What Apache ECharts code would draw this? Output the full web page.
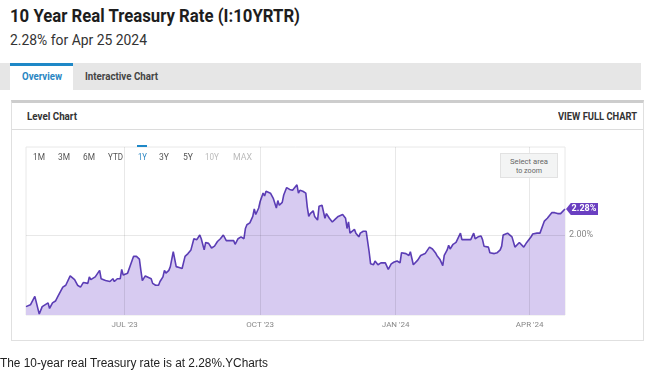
<!DOCTYPE html>
<html><head><meta charset="utf-8">
<script src="https://cdn.jsdelivr.net/npm/echarts@6/dist/echarts.min.js"></script>
<style>
html,body{margin:0;padding:0;width:651px;height:371px;overflow:hidden;background:#fff;font-family:Roboto,"Noto Sans",sans-serif;}
.abs{position:absolute;white-space:nowrap;}
[data-w]{transform-origin:0 50%;}
#title{left:10px;top:5px;font-size:18px;font-weight:700;color:#1d1d1d;line-height:22px;}
#sub{left:10px;top:31px;font-size:14px;color:#333;line-height:18px;}
#tabbar{left:0;top:63px;width:641px;height:27px;background:#e6e6e6;}
#tabActive{left:10px;top:63px;width:63px;height:27px;background:#fff;border-top:3px solid #1e88c7;box-sizing:border-box;}
#tab1{left:22px;top:70px;font-size:11px;font-weight:700;color:#2a86c3;line-height:14px;}
#tab2{left:85px;top:70px;font-size:11px;font-weight:700;color:#444;line-height:14px;}
#card{left:11px;top:100px;width:633px;height:241px;border:1px solid #e0e0e0;border-top:3px solid #cdcdcd;box-sizing:border-box;}
#sep{left:12px;top:129px;width:631px;height:1px;background:#dcdcdc;}
#lvl{left:27px;top:110px;font-size:11px;font-weight:700;color:#333;line-height:14px;}
#vfc{left:558px;top:110px;font-size:11px;font-weight:700;color:#333;line-height:14px;}
#chart{left:0;top:0;width:651px;height:371px;}
.rb{top:152px;font-size:9px;color:#555;line-height:11px;}
.rb.on{color:#2a86c3;}
.rb.off{color:#bbb;}
#rbBar{left:137px;top:145px;width:10px;height:2px;background:#1e88c7;}
#zoomBox{left:500px;top:153px;width:58px;height:25px;background:#f3f4f4;border:1px solid #e2e2e2;box-sizing:border-box;}
.zt{font-size:8px;color:#666;line-height:9px;}
#foot{left:0;top:356px;font-family:"Liberation Sans",Arial,sans-serif;font-size:12px;color:#222;line-height:15px;}
</style></head>
<body>
<div class="abs" id="title" data-w="290">10 Year Real Treasury Rate (I:10YRTR)</div>
<div class="abs" id="sub" data-w="137">2.28% for Apr 25 2024</div>
<div class="abs" id="tabbar"></div>
<div class="abs" id="tabActive"></div>
<div class="abs" id="tab1" data-w="40">Overview</div>
<div class="abs" id="tab2" data-w="73">Interactive Chart</div>
<div class="abs" id="card"></div>
<div class="abs" id="sep"></div>
<div class="abs" id="lvl" data-w="50">Level Chart</div>
<div class="abs" id="vfc" data-w="79">VIEW FULL CHART</div>
<div class="abs" id="chart"></div>
<div class="abs" id="rbBar"></div>
<div class="abs rb" style="left:33px" data-w="12">1M</div>
<div class="abs rb" style="left:58px" data-w="12">3M</div>
<div class="abs rb" style="left:83px" data-w="12">6M</div>
<div class="abs rb" style="left:108px" data-w="15">YTD</div>
<div class="abs rb on" style="left:138px" data-w="9">1Y</div>
<div class="abs rb" style="left:159px" data-w="10">3Y</div>
<div class="abs rb" style="left:183px" data-w="10">5Y</div>
<div class="abs rb off" style="left:205px" data-w="14">10Y</div>
<div class="abs rb off" style="left:233px" data-w="19">MAX</div>
<div class="abs" id="zoomBox"></div>
<div class="abs zt" style="left:510px;top:157px" data-w="38">Select area</div>
<div class="abs zt" style="left:516px;top:166px" data-w="26">to zoom</div>
<div class="abs" id="foot" data-w="268">The 10-year real Treasury rate is at 2.28%.YCharts</div>
<script>
const dates = ['2023-04-25','2023-04-28','2023-05-01','2023-05-04','2023-05-06','2023-05-10','2023-05-11','2023-05-13','2023-05-15','2023-05-17',
'2023-05-20','2023-05-22','2023-05-23','2023-05-25','2023-05-28','2023-05-30','2023-06-01','2023-06-03','2023-06-06','2023-06-07',
'2023-06-08','2023-06-11','2023-06-14','2023-06-15','2023-06-18','2023-06-21','2023-06-23','2023-06-24','2023-06-26','2023-06-28',
'2023-06-29','2023-06-30','2023-07-03','2023-07-05','2023-07-07','2023-07-09','2023-07-11','2023-07-12','2023-07-13','2023-07-15',
'2023-07-16','2023-07-19','2023-07-20','2023-07-22','2023-07-24','2023-07-25','2023-07-27','2023-07-28','2023-07-29','2023-07-31',
'2023-08-01','2023-08-03','2023-08-05','2023-08-07','2023-08-09','2023-08-11','2023-08-13','2023-08-15','2023-08-17','2023-08-19',
'2023-08-21','2023-08-22','2023-08-24','2023-08-25','2023-08-27','2023-08-29','2023-08-31','2023-09-02','2023-09-04','2023-09-06',
'2023-09-08','2023-09-11','2023-09-13','2023-09-14','2023-09-16','2023-09-18','2023-09-20','2023-09-21','2023-09-22','2023-09-24',
'2023-09-26','2023-09-27','2023-09-28','2023-09-30','2023-10-01','2023-10-03','2023-10-04','2023-10-05','2023-10-06','2023-10-08',
'2023-10-10','2023-10-12','2023-10-13','2023-10-14','2023-10-16','2023-10-17','2023-10-19','2023-10-21','2023-10-23','2023-10-24',
'2023-10-26','2023-10-27','2023-10-28','2023-10-30','2023-11-01','2023-11-02','2023-11-03','2023-11-04','2023-11-06','2023-11-07',
'2023-11-09','2023-11-10','2023-11-12','2023-11-13','2023-11-14','2023-11-15','2023-11-17','2023-11-19','2023-11-21','2023-11-23',
'2023-11-26','2023-11-28','2023-11-29','2023-11-30','2023-12-01','2023-12-04','2023-12-05','2023-12-07','2023-12-08','2023-12-10',
'2023-12-12','2023-12-14','2023-12-15','2023-12-17','2023-12-18','2023-12-20','2023-12-22','2023-12-25','2023-12-26','2023-12-27',
'2023-12-29','2023-12-31','2024-01-02','2024-01-04','2024-01-05','2024-01-06','2024-01-08','2024-01-09','2024-01-10','2024-01-11',
'2024-01-13','2024-01-16','2024-01-18','2024-01-21','2024-01-22','2024-01-24','2024-01-26','2024-01-28','2024-01-29','2024-01-31',
'2024-02-02','2024-02-03','2024-02-05','2024-02-06','2024-02-07','2024-02-09','2024-02-11','2024-02-12','2024-02-14','2024-02-15',
'2024-02-16','2024-02-19','2024-02-21','2024-02-23','2024-02-24','2024-02-26','2024-02-28','2024-02-29','2024-03-01','2024-03-04',
'2024-03-05','2024-03-08','2024-03-10','2024-03-12','2024-03-13','2024-03-14','2024-03-17','2024-03-18','2024-03-20','2024-03-22',
'2024-03-25','2024-03-26','2024-03-28','2024-03-30','2024-04-02','2024-04-03','2024-04-04','2024-04-06','2024-04-08','2024-04-09',
'2024-04-11','2024-04-12','2024-04-13','2024-04-14','2024-04-16','2024-04-17','2024-04-18','2024-04-20','2024-04-22','2024-04-23',
'2024-04-25'];
const values = [1.23,1.25,1.34,1.15,1.23,1.27,1.21,1.27,1.29,1.35,
1.44,1.46,1.44,1.56,1.52,1.46,1.44,1.49,1.48,1.55,
1.52,1.55,1.62,1.53,1.51,1.50,1.53,1.50,1.53,1.53,
1.63,1.57,1.59,1.68,1.77,1.77,1.74,1.62,1.51,1.56,
1.55,1.53,1.48,1.46,1.46,1.50,1.55,1.62,1.59,1.62,
1.66,1.82,1.66,1.65,1.64,1.77,1.80,1.84,1.96,1.95,
2.00,1.96,1.84,1.92,1.91,1.86,1.88,1.93,1.96,2.00,
1.94,1.94,1.94,1.90,1.96,1.98,1.96,2.07,2.11,2.13,
2.20,2.28,2.22,2.29,2.36,2.45,2.42,2.47,2.49,2.45,
2.39,2.29,2.37,2.32,2.35,2.43,2.51,2.49,2.48,2.47,
2.54,2.45,2.48,2.47,2.45,2.30,2.20,2.23,2.26,2.20,
2.16,2.31,2.32,2.34,2.18,2.23,2.18,2.14,2.17,2.20,
2.22,2.18,2.07,2.14,2.02,2.06,2.02,1.98,2.02,2.04,
2.04,1.82,1.69,1.68,1.72,1.68,1.70,1.70,1.70,1.63,
1.69,1.71,1.72,1.70,1.81,1.83,1.80,1.81,1.78,1.82,
1.68,1.73,1.78,1.80,1.80,1.87,1.85,1.81,1.78,1.74,
1.67,1.78,1.84,1.89,1.85,1.90,1.92,1.92,2.02,1.95,
1.96,1.95,1.95,2.02,1.96,1.98,1.99,1.95,1.88,1.87,
1.81,1.80,1.81,1.84,1.88,2.00,2.02,2.04,1.98,1.87,
1.92,1.90,1.87,1.92,1.98,2.01,1.99,2.02,2.02,2.00,
2.15,2.13,2.18,2.20,2.24,2.23,2.24,2.23,2.23,2.23,
2.28];
const tickDates = ['2023-07-01','2023-10-01','2024-01-01','2024-04-01'];
const tickLabels = ["JUL '23","OCT '23","JAN '24","APR '24"];
const refLevel = 2.00;
const refLabel = '2.00%';
const xStart = '2023-04-25';
const xEnd = '2024-04-25';
const yMin = 1.14;
const yMax = 2.946;

function ts(s){const p=s.split('-');return new Date(+p[0],+p[1]-1,+p[2]).getTime();}

document.querySelectorAll('[data-w]').forEach(function(el){
  const w = el.getBoundingClientRect().width;
  el.style.transform = 'scaleX(' + (parseFloat(el.dataset.w)/w) + ')';
});

const chart = echarts.init(document.getElementById('chart'), null, {renderer:'canvas'});
const tickTs = tickDates.map(ts);
const lastIdx = values.length - 1;
chart.setOption({
  animation:false,
  grid:{left:26, top:147, width:539, height:168, show:true, borderColor:'#e8e8e8', borderWidth:1, backgroundColor:'transparent', containLabel:false},
  xAxis:{type:'time', min:ts(xStart), max:ts(xEnd),
    axisLine:{show:false}, axisTick:{show:false}, splitLine:{show:false}, axisLabel:{show:false}},
  yAxis:{type:'value', min:yMin, max:yMax, axisLine:{show:false}, axisTick:{show:false}, axisLabel:{show:false}, splitLine:{show:false}},
  series:[{
    type:'line', data:dates.map(function(d,i){return [ts(d), values[i]];}),
    symbol:'none', lineStyle:{color:'#5b3db5', width:1.6}, areaStyle:{color:'#d7cbf1', opacity:1},
    markLine:{silent:true, symbol:['none','none'], animation:false,
      lineStyle:{color:'rgba(0,0,0,0.09)', type:'solid', width:1},
      data:[{yAxis:refLevel, label:{show:true, position:'end', formatter:refLabel, color:'#888', fontSize:9, fontFamily:'Roboto', distance:4, padding:[0,0,14,0]}}]
        .concat(tickTs.map(function(t,i){return {xAxis:t, label:{show:true, position:'start', formatter:tickLabels[i], color:'#888', fontSize:8, fontFamily:'Roboto', distance:6}};}))},
    markPoint:{silent:true, animation:false,
      data:[{coord:[ts(dates[lastIdx]), values[lastIdx]], value:values[lastIdx]}],
      symbol:'path://M0,6L6,0L40,0L40,12L6,12Z', symbolSize:[32,12], symbolKeepAspect:false, symbolOffset:[17,0],
      itemStyle:{color:'#6a3fc1'},
      label:{show:true, position:'inside', formatter:function(p){return p.value.toFixed(2)+'%';}, color:'#fff', fontWeight:'bold', fontSize:9, fontFamily:'Roboto', offset:[2,0]}}
  }]
});
</script>
</body></html>
